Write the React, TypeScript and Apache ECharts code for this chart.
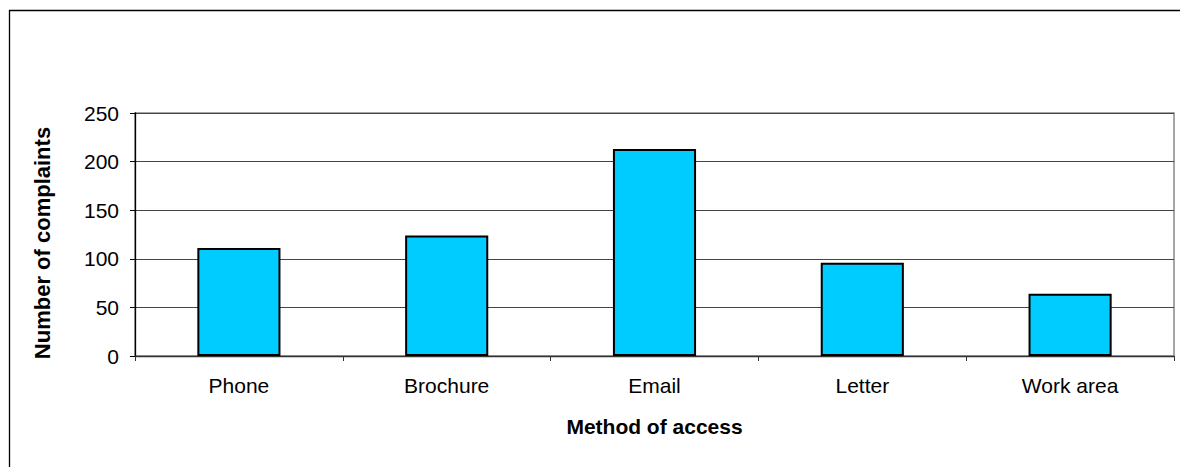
import React, { useEffect, useRef } from "react";
import * as echarts from "echarts";

const categories = ["Phone", "Brochure", "Email", "Letter", "Work area"];
const complaints = [111, 124, 213, 96, 64];
const yTicks = [0, 50, 100, 150, 200, 250];
const xTitle = "Method of access";
const yTitle = "Number of complaints";

export default function App() {
  const ref = useRef<HTMLDivElement>(null);
  useEffect(() => {
    if (!ref.current) return;
    const chart = echarts.init(ref.current, null, { renderer: "svg" });
    const font = "Arial, 'Liberation Sans', sans-serif";
    chart.setOption({
      animation: false,
      backgroundColor: "#ffffff",
      textStyle: { fontFamily: font },
      graphic: [
        {
          type: "rect",
          shape: { x: 9.5, y: 10.5, width: 1300, height: 600 },
          style: { fill: "none", stroke: "#000", lineWidth: 1.3 },
          silent: true,
        },
        {
          type: "text",
          x: 42,
          y: 243,
          rotation: Math.PI / 2,
          style: {
            text: yTitle,
            fontSize: 22,
            fontWeight: "bold",
            fill: "#000",
            fontFamily: font,
            align: "center",
            verticalAlign: "middle",
          },
          silent: true,
        },
      ],
      grid: {
        left: 135,
        top: 113,
        right: 6,
        bottom: 111,
        show: true,
        borderColor: "#888",
        borderWidth: 1.5,
        containLabel: false,
      },
      xAxis: {
        type: "category",
        data: categories,
        name: xTitle,
        nameLocation: "middle",
        nameGap: 60,
        nameTextStyle: { fontSize: 21, fontWeight: "bold", color: "#000", fontFamily: font },
        axisLine: { lineStyle: { color: "#333", width: 1.3 } },
        axisTick: { show: true, length: 5, lineStyle: { color: "#333" } },
        axisLabel: { fontSize: 21, color: "#000", margin: 19, fontFamily: font },
      },
      yAxis: {
        type: "value",
        min: yTicks[0],
        max: yTicks[yTicks.length - 1],
        interval: 50,
        axisLine: { show: true, lineStyle: { color: "#000", width: 1.3 } },
        axisTick: { show: true, length: 5, lineStyle: { color: "#000" } },
        axisLabel: { fontSize: 21, color: "#000", margin: 16, fontFamily: font },
        splitLine: { show: true, lineStyle: { color: "#444", width: 1.2 } },
      },
      series: [
        {
          type: "bar",
          data: complaints,
          barCategoryGap: "60%",
          itemStyle: { color: "#00CCFF", borderColor: "#000", borderWidth: 2 },
        },
      ],
    });
    return () => chart.dispose();
  }, []);
  return (
    <div
      ref={ref}
      style={{ position: "absolute", left: 0, top: 0, width: 1180, height: 467 }}
    />
  );
}
